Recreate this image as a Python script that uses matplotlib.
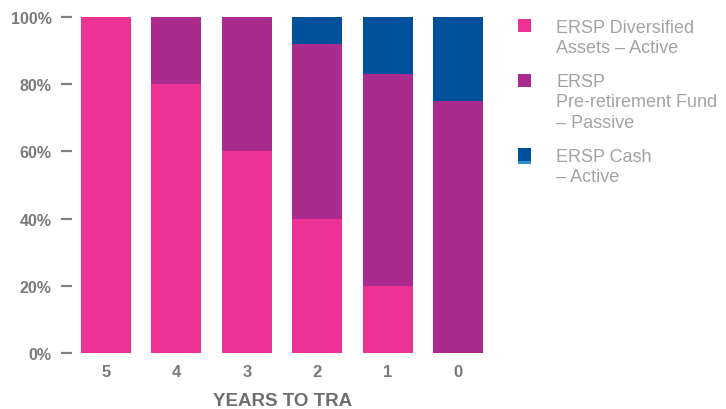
import matplotlib
matplotlib.use("Agg")
import matplotlib.pyplot as plt
from matplotlib.patches import Rectangle
import numpy as np

years = ['5', '4', '3', '2', '1', '0']
diversified = [100, 80, 60, 40, 20, 0]
preretirement = [0, 20, 40, 52, 63, 75]
cash = [0, 0, 0, 8, 17, 25]
series_labels = ['ERSP Diversified\nAssets – Active',
                 'ERSP\nPre-retirement Fund\n– Passive',
                 'ERSP Cash\n– Active']
colors = ['#EE3194', '#AA2A8E', '#00509B']
ytick_vals = [0, 20, 40, 60, 80, 100]
xlabel = 'YEARS TO TRA'

W, H = 726, 410
fig = plt.figure(figsize=(W / 100, H / 100), dpi=100)
ax = fig.add_axes([72 / W, 56 / H, 418 / W, 336 / H])

x = np.arange(len(years))
series = [diversified, preretirement, cash]
bottom = np.zeros(len(years))
for vals, c in zip(series, colors):
    ax.bar(x, vals, width=0.71, bottom=bottom, color=c, linewidth=0)
    bottom += np.array(vals)

ax.set_xlim(-0.483, 5.455)
ax.set_ylim(0, 100)
for s in ax.spines.values():
    s.set_visible(False)

tick_col = '#7a7a7a'
ax.set_yticks(ytick_vals)
ax.set_yticklabels([f'{v}%' for v in ytick_vals], fontweight='bold',
                   family='Liberation Sans', fontsize=11.5, color=tick_col)
ax.tick_params(axis='y', direction='out', length=8, width=1.6,
               color='#808080', pad=6.5)
ax.set_xticks(x)
ax.set_xticklabels(years, fontweight='bold', family='Liberation Sans',
                   fontsize=12, color=tick_col)
ax.tick_params(axis='x', length=0, pad=8)

fig.text(283 / W, 3.5 / H, xlabel, ha='center', va='baseline',
         fontsize=13.5, fontweight='bold', family='Liberation Sans',
         color='#6e6e6e')

# legend drawn manually
leg_col = '#a3a3a3'
sq_tops = [20, 75, 149]
first_baselines = [33, 87, 162]
line_h = 20.3
for lab, c, top, bl in zip(series_labels, colors, sq_tops, first_baselines):
    fig.patches.append(Rectangle((518 / W, 1 - (top + 13) / H), 13 / W, 13 / H,
                                 transform=fig.transFigure, color=c, lw=0))
    for i, line in enumerate(lab.split('\n')):
        fig.text(556 / W, 1 - (bl + i * line_h) / H, line, ha='left',
                 va='baseline', fontsize=13, family='Liberation Sans',
                 color=leg_col)
# lighter strip under the cash marker
fig.patches.append(Rectangle((518 / W, 1 - 165 / H), 13 / W, 3 / H,
                             transform=fig.transFigure, color='#2A8FCB', lw=0))

fig.savefig('out.png', dpi=100)
